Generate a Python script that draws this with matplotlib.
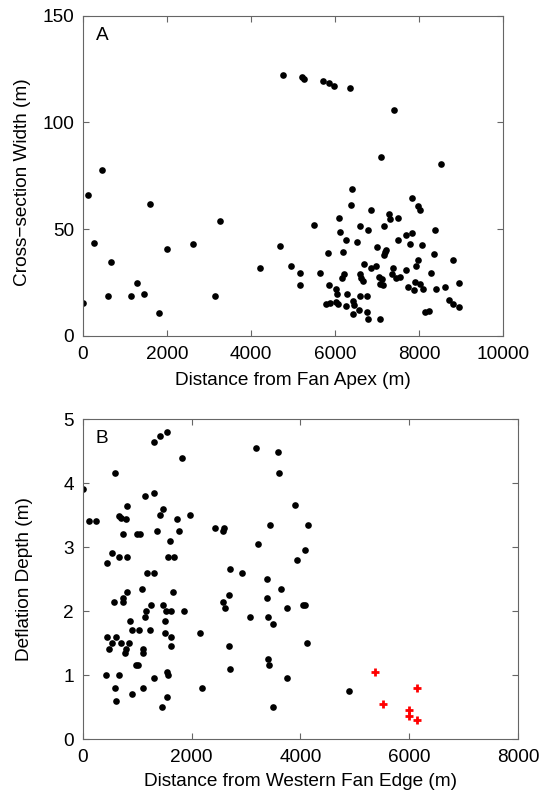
import matplotlib
matplotlib.use("Agg")
import matplotlib.pyplot as plt

plt.rcParams['font.family'] = ['Liberation Sans', 'DejaVu Sans']

# panel A: distance from fan apex (m) vs cross-section width (m)
apex_dist = [0, 111, 270, 452, 587, 659, 1135, 1294, 1444, 1587, 1817, 2000,
             2611, 3135, 3262, 4206, 4698, 4754, 4944,
             5225, 5265, 5708, 5858, 5984, 6356, 7415, 7107, 8522,
             6411, 6387, 6862, 7826, 7968, 8016, 7281, 7320, 7502, 6087,
             5494, 6601, 6775, 7162, 6111, 8372, 6269, 6530, 7510, 7700,
             7842, 7779, 8071, 7012, 7225, 7194, 7178, 5834, 6198, 8348,
             8814, 7968, 7921, 6680, 6846, 6980, 7383, 7700, 5170, 5636,
             6593, 6221, 6166, 7043, 7130, 7359, 7454, 7557, 6617, 6672,
             8285, 5170, 5866, 6024, 7067, 7146, 7739, 7913, 8016, 8095,
             7874, 8403, 8625, 8957, 6040, 6293, 6593, 6767, 6435, 6458,
             5787, 5881, 6016, 6063, 6261, 6569, 6751, 6435, 6783, 7067,
             8134, 8237, 8712, 8807, 8949]
width = [15.6, 66.1, 43.4, 77.8, 18.8, 34.5, 18.8, 24.7, 19.7, 61.9, 10.9, 40.8,
         43.0, 18.8, 53.8, 31.6, 41.9, 122.2, 32.8,
         121.1, 120.3, 119.4, 118.3, 117.0, 116.1, 105.9, 83.8, 80.6,
         68.6, 61.1, 58.8, 64.5, 60.9, 59.0, 57.0, 54.8, 55.0, 55.0,
         52.0, 51.7, 49.5, 51.3, 48.9, 49.7, 45.0, 43.9, 44.8, 47.2,
         48.1, 43.0, 42.8, 41.6, 40.3, 39.1, 37.7, 38.8, 39.5, 38.6,
         35.8, 35.8, 32.8, 33.8, 31.7, 32.8, 32.0, 30.9, 29.7, 29.7,
         28.9, 28.9, 27.0, 27.8, 26.7, 28.9, 27.3, 27.7, 27.3, 25.9,
         29.7, 23.9, 23.8, 22.2, 24.2, 23.8, 23.0, 25.5, 24.4, 21.9,
         21.6, 21.9, 23.0, 24.8, 19.7, 19.7, 18.8, 18.8, 16.6, 14.4,
         14.8, 15.6, 15.9, 15.2, 13.9, 12.2, 11.1, 10.2, 8.0, 7.8,
         11.1, 11.7, 16.9, 14.8, 13.8]

# panel B: distance from western fan edge (m) vs deflation depth (m)
edge_dist = [0, 116, 239, 593, 440, 532, 661, 813, 813, 673, 697, 801, 734,
             1003, 1052, 1144, 1309, 1309, 1425, 1547, 1816, 1480, 1413, 1364,
             1596, 1725, 1761, 1963, 1572, 1682, 1180, 1309, 1089, 813, 734,
             734, 569, 1248, 1480, 1156, 1144, 1535, 1627, 1651, 1853, 1517,
             868, 905, 1040, 1242, 1511, 446, 618, 1627, 544, 697, 856, 489,
             801, 783, 1101, 1107, 1627, 972, 1015, 434, 661, 1553, 1560,
             1303, 599, 1101, 612, 905, 1541, 1450, 2147, 2196, 2434, 2569,
             2593, 2697, 2917, 2679, 2569, 2606, 2679, 2697, 3076, 3174, 3223,
             3590, 3602, 3443, 3376, 3645, 3388, 3407, 3498, 3761, 3400, 3425,
             3755, 3498, 3900, 3933, 4129, 4086, 4043, 4080, 4123, 4892]
depth = [3.90, 3.40, 3.40, 4.15, 2.75, 2.90, 2.85, 2.85, 3.64, 3.48, 3.45, 3.44,
         3.20, 3.20, 3.20, 3.79, 3.84, 4.64, 4.74, 4.79, 4.39, 3.59, 3.50, 3.25,
         3.09, 3.44, 3.25, 3.50, 2.85, 2.85, 2.60, 2.60, 2.35, 2.29, 2.20,
         2.14, 2.14, 2.10, 2.10, 2.00, 1.90, 2.00, 2.00, 2.29, 2.00, 1.85,
         1.85, 1.70, 1.70, 1.70, 1.65, 1.60, 1.60, 1.60, 1.50, 1.50, 1.50, 1.40,
         1.40, 1.35, 1.40, 1.35, 1.45, 1.15, 1.15, 1.00, 1.00, 1.05, 1.00,
         0.95, 0.80, 0.80, 0.60, 0.70, 0.65, 0.50, 1.65, 0.80, 3.30, 3.25,
         3.30, 2.65, 2.60, 2.25, 2.14, 2.05, 1.45, 1.10, 1.90, 4.55, 3.05,
         4.49, 4.15, 3.35, 2.50, 2.35, 2.20, 1.90, 1.80, 2.05, 1.25, 1.15,
         0.95, 0.50, 3.65, 2.79, 3.34, 2.95, 2.09, 2.09, 1.50, 0.75]

# red crosses in panel B
red_dist = [5360, 6135, 5520, 6000, 6000, 6135]
red_depth = [1.05, 0.80, 0.55, 0.45, 0.36, 0.30]

fs = 13.7
spine_col = '#666666'

fig = plt.figure(figsize=(5.43, 7.96), dpi=100)
axA = fig.add_axes([0.1529, 0.5779, 0.7734, 0.4026])
axB = fig.add_axes([0.1523, 0.0716, 0.8022, 0.4020])


def style(ax):
    for s in ax.spines.values():
        s.set_color(spine_col)
        s.set_linewidth(0.8)
    ax.tick_params(direction='in', top=True, right=True, length=4,
                   width=0.8, color=spine_col, labelsize=fs)
    ax.tick_params(axis='x', pad=7)
    ax.tick_params(axis='y', pad=6.5)


axA.plot(apex_dist, width, 'o', color='black', markersize=4.8, markeredgewidth=0)
axA.set_xlim(0, 10000)
axA.set_ylim(0, 150)
axA.set_xticks([0, 2000, 4000, 6000, 8000, 10000])
axA.set_yticks([0, 50, 100, 150])
axA.set_xlabel('Distance from Fan Apex (m)', fontsize=fs)
axA.set_ylabel('Cross\u2212section Width (m)', fontsize=fs)
axA.xaxis.set_label_coords(0.5, -0.113)
axA.yaxis.set_label_coords(-0.125, 0.48)
axA.text(0.03, 0.965, 'A', transform=axA.transAxes, fontsize=fs, va='top', ha='left')
style(axA)

axB.plot(edge_dist, depth, 'o', color='black', markersize=4.8, markeredgewidth=0)
axB.plot(red_dist, red_depth, '+', color='red', markersize=5.5, markeredgewidth=2)
axB.set_xlim(0, 8000)
axB.set_ylim(0, 5)
axB.set_xticks([0, 2000, 4000, 6000, 8000])
axB.set_yticks([0, 1, 2, 3, 4, 5])
axB.set_xlabel('Distance from Western Fan Edge (m)', fontsize=fs)
axB.set_ylabel('Deflation Depth (m)', fontsize=fs)
axB.xaxis.set_label_coords(0.5, -0.105)
axB.yaxis.set_label_coords(-0.115, 0.5)
axB.text(0.03, 0.965, 'B', transform=axB.transAxes, fontsize=fs, va='top', ha='left')
style(axB)

fig.savefig('out.png', dpi=100)
